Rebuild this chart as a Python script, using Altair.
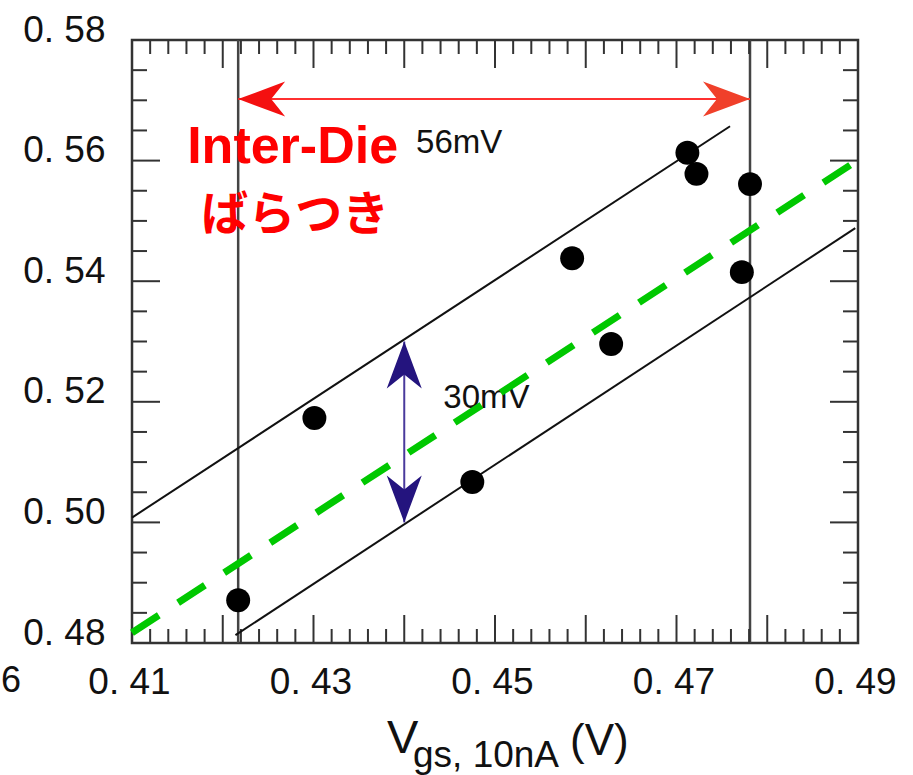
import altair as alt
import numpy as np
import pandas as pd

# Threshold voltage vs. Vgs at 10 nA, one point per die
vgs = [0.4217, 0.4301, 0.4475, 0.4585, 0.4628, 0.4712, 0.4722, 0.4781, 0.4772]
vth = [0.4871, 0.5173, 0.5067, 0.5438, 0.5296, 0.5613, 0.5578, 0.5561, 0.5415]

# Envelope lines (upper / lower)
upper_x = [0.4100, 0.4759]
upper_y = [0.5008, 0.5657]
lower_x = [0.4214, 0.4897]
lower_y = [0.4813, 0.5488]

# Trend line (dashed)
fit_x = [0.41, 0.49]
fit_y = [0.4817, 0.5601]

# Arrows: inter-die spread (horizontal) and band width (vertical)
spread_y = 0.5702
band_x = 0.44
band_y = [0.500, 0.530]

# Axis ticks / labels
x_labels = [0.41, 0.43, 0.45, 0.47, 0.49]
y_labels = [0.48, 0.50, 0.52, 0.54, 0.56, 0.58]
x_major = [round(v, 3) for v in np.arange(0.41, 0.4901, 0.01)]
x_minor = [round(v, 3) for v in np.arange(0.41, 0.4901, 0.002) if round(v, 3) not in x_major]
y_major = y_labels
y_minor = [round(v, 3) for v in np.arange(0.48, 0.5801, 0.005) if round(v, 3) not in y_major]

W, H = 726, 603
FONT = "Liberation Sans, Arial, sans-serif"

xs = alt.Scale(domain=[0.41, 0.49], nice=False, zero=False)
ys = alt.Scale(domain=[0.48, 0.58], nice=False, zero=False)

pts = pd.DataFrame({"vgs": vgs, "vth": vth})
x_lo, x_hi = min(vgs), max(vgs)

space_label = "replace(format(datum.value, '.2f'), '.', '. ')"

x_axis = alt.Axis(values=x_labels, labelExpr=space_label, domain=False, ticks=False,
                  grid=False, title=None, labelFont=FONT, labelFontSize=37,
                  labelColor="#111", labelPadding=39, labelBaseline="middle",
                  labelOffset=-3, labelFlush=False, labelOverlap=False)
y_axis = alt.Axis(values=y_labels, labelExpr=space_label, domain=False, ticks=False,
                  grid=False, title=None, labelFont=FONT, labelFontSize=37,
                  labelColor="#111", labelPadding=27, labelOffset=-10,
                  labelFlush=False, labelOverlap=False)


def X(field):
    return alt.X(field, scale=xs, axis=x_axis)


def Y(field):
    return alt.Y(field, scale=ys, axis=y_axis)


TICK = "#333"


def xticks(vals, length):
    d = pd.DataFrame({"v": vals})
    bottom = alt.Chart(d).mark_rule(color=TICK, strokeWidth=2).encode(
        x=X("v:Q"), y=alt.value(H), y2=alt.value(H - length))
    top = alt.Chart(d).mark_rule(color=TICK, strokeWidth=2).encode(
        x=X("v:Q"), y=alt.value(0), y2=alt.value(length))
    return [bottom, top]


def yticks(vals, length):
    d = pd.DataFrame({"v": vals})
    left = alt.Chart(d).mark_rule(color=TICK, strokeWidth=2).encode(
        y=Y("v:Q"), x=alt.value(0), x2=alt.value(length))
    right = alt.Chart(d).mark_rule(color=TICK, strokeWidth=2).encode(
        y=Y("v:Q"), x=alt.value(W), x2=alt.value(W - length))
    return [left, right]


tick_layers = xticks(x_major, 28) + xticks(x_minor, 14) + yticks(y_major, 28) + yticks(y_minor, 15)

# Vertical rules through the smallest and largest Vgs
vlines = alt.Chart(pd.DataFrame({"v": [x_lo, x_hi]})).mark_rule(
    color="#444", strokeWidth=2.5).encode(x=X("v:Q"))

env = pd.DataFrame({
    "x": upper_x + lower_x,
    "y": upper_y + lower_y,
    "line": ["upper", "upper", "lower", "lower"],
})
env_lines = alt.Chart(env).mark_line(color="#111", strokeWidth=2).encode(
    x=X("x:Q"), y=Y("y:Q"), detail="line:N")

fit = alt.Chart(pd.DataFrame({"x": fit_x, "y": fit_y})).mark_line(
    color="#00c800", strokeWidth=7, strokeDash=[32, 23], strokeCap="butt").encode(
    x=X("x:Q"), y=Y("y:Q"))

spread_mv = round((x_hi - x_lo) * 1000)
band_mv = round((band_y[1] - band_y[0]) * 1000)


def note(text, x, y, size, font=FONT, color="#111", weight="normal", align="left"):
    d = pd.DataFrame({"x": [x], "y": [y], "t": [text]})
    return alt.Chart(d).mark_text(
        font=font, fontSize=size, fontWeight=weight, color=color,
        align=align, baseline="alphabetic").encode(
        x=X("x:Q"), y=Y("y:Q"), text="t:N")


notes = [
    note(f"{spread_mv}mV", 0.4413, 0.5613, 33),
    note(f"{band_mv}mV", 0.4443, 0.5190, 33),
    note("Inter-Die", 0.4277, 0.5596, 52, color="#ff0000", weight="bold", align="center"),
    note("ばらつき", 0.4280, 0.5485, 47, font="Noto Sans CJK JP", color="#ff0000",
         weight="bold", align="center"),
]

# Arrow shafts
red_shaft = alt.Chart(pd.DataFrame({"x": [x_lo], "x2": [x_hi], "y": [spread_y]})).mark_rule(
    color="#ff3030", strokeWidth=2).encode(x=X("x:Q"), x2="x2:Q", y=Y("y:Q"))
blue_shaft = alt.Chart(pd.DataFrame({"x": [band_x], "y": [band_y[0]], "y2": [band_y[1]]})).mark_rule(
    color="#4a3a9c", strokeWidth=2).encode(x=X("x:Q"), y=Y("y:Q"), y2="y2:Q")

# Arrow heads: barbed head with its tip at the symbol origin, pointing +x
HEAD = "M0,0 L-4.7,-1.75 L-3.3,0 L-4.7,1.75 Z"
heads = pd.DataFrame({
    "x": [x_lo, x_hi, band_x, band_x],
    "y": [spread_y, spread_y, band_y[1], band_y[0]],
    "angle": [180, 0, 270, 90],
    "c": ["#f41010", "#f0402a", "#24147e", "#24147e"],
})
head_marks = alt.Chart(heads).mark_point(
    shape=HEAD, size=400, filled=True, opacity=1, strokeWidth=0).encode(
    x=X("x:Q"), y=Y("y:Q"),
    angle=alt.Angle("angle:Q", scale=None), color=alt.Color("c:N", scale=None))

points = alt.Chart(pts).mark_circle(size=573, color="black", opacity=1).encode(
    x=X("vgs:Q"), y=Y("vth:Q"))


# Axis title with subscript, plus a stray tick label at the far left
def px_text(text, x, y, size, align="left", baseline="alphabetic"):
    d = pd.DataFrame({"t": [text]})
    return alt.Chart(d).mark_text(
        font=FONT, fontSize=size, color="#111", align=align,
        baseline=baseline).encode(x=alt.value(x), y=alt.value(y), text="t:N")


title_parts = [
    px_text("V", 255, 713, 47),
    px_text("gs, 10nA", 281, 727, 37),
    px_text("(V)", 438, 715, 44),
    px_text("6", -121, 641, 36, align="center", baseline="middle"),
]

chart = alt.layer(
    vlines, *tick_layers, env_lines, *notes, fit, red_shaft, blue_shaft, head_marks,
    points, *title_parts,
).properties(
    width=W, height=H,
    padding={"left": 132, "top": 40, "right": 55, "bottom": 132},
    autosize=alt.AutoSizeParams(type="none"),
    background="white",
).configure_view(stroke="#333", strokeWidth=2.5)

chart.save("out.html", embed_options={"renderer": "svg", "actions": False})
